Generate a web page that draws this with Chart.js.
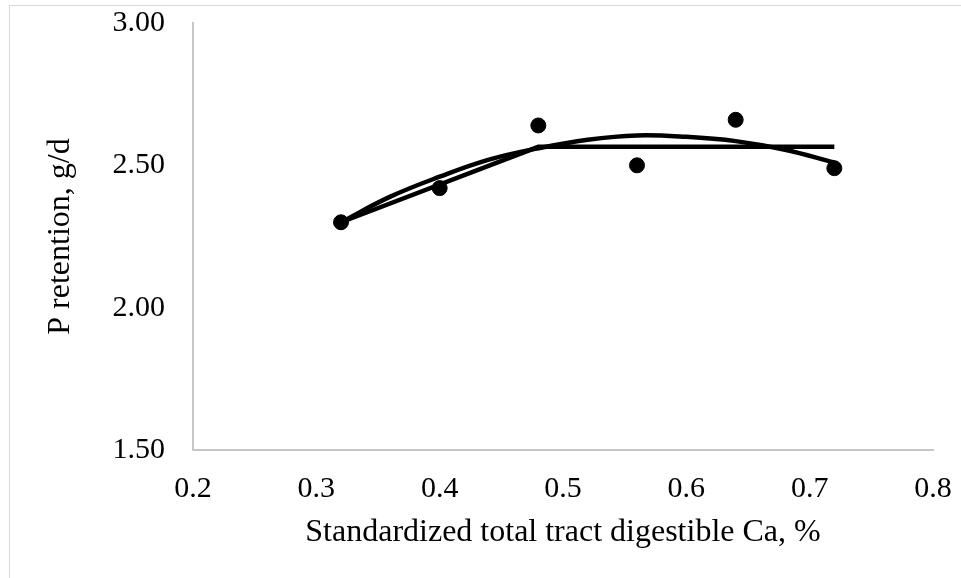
<!DOCTYPE html>
<html lang="en">
<head>
  <meta charset="UTF-8" />
  <title>P retention vs STTD Ca</title>
  <script src="https://cdn.jsdelivr.net/npm/chart.js"></script>
  <style>
    html, body { margin: 0; padding: 0; background: #fff; }
    #wrap { position: relative; width: 961px; height: 578px; overflow: hidden; }
    #frame { position: absolute; left: 9px; top: 5px; width: 1000px; height: 1000px; border: 1px solid #d9d9d9; box-sizing: border-box; }
    canvas { position: absolute; left: 0; top: 0; }
  </style>
</head>
<body>
  <div id="wrap">
    <div id="frame"></div>
    <canvas id="chart" width="961" height="578"></canvas>
  </div>
  <script>
    // observed values
    const caLevels = [0.32, 0.40, 0.48, 0.56, 0.64, 0.72];
    const pRetention = [2.30, 2.42, 2.64, 2.50, 2.66, 2.49];

    // broken-line fit
    const brokenX = [0.32, 0.48, 0.72];
    const brokenY = [2.30, 2.565, 2.565];

    // quadratic fit curve
    const curveX = [0.32, 0.36, 0.40, 0.44, 0.48, 0.52, 0.56, 0.60, 0.64, 0.68, 0.72];
    const curveY = [2.30, 2.39, 2.46, 2.52, 2.56, 2.59, 2.605, 2.60, 2.585, 2.555, 2.51];

    const yTicks = [1.5, 2.0, 2.5, 3.0];
    const xTicks = [0.2, 0.3, 0.4, 0.5, 0.6, 0.7, 0.8];

    const pts = (xs, ys) => xs.map((x, i) => ({ x: x, y: ys[i] }));
    const font = 'Liberation Serif, Times New Roman, serif';

    new Chart(document.getElementById('chart'), {
      type: 'scatter',
      data: {
        datasets: [
          { data: pts(curveX, curveY), showLine: true, tension: 0.4, borderColor: '#000', borderWidth: 4.5, pointRadius: 0, order: 2 },
          { data: pts(brokenX, brokenY), showLine: true, tension: 0, borderColor: '#000', borderWidth: 4.5, pointRadius: 0, order: 3 },
          { data: pts(caLevels, pRetention), showLine: false, backgroundColor: '#000', borderColor: '#000', pointRadius: 7.5, pointHoverRadius: 7.5, order: 1 }
        ]
      },
      options: {
        responsive: false,
        animation: false,
        events: [],
        layout: { padding: 0, autoPadding: false },
        plugins: { legend: { display: false }, tooltip: { enabled: false } },
        scales: {
          x: {
            type: 'linear',
            min: 0.2,
            max: 0.8,
            // pin plot edges: bottom at 450, right at 933
            afterFit: s => { s.height = 128; s.paddingRight = 28; s.paddingLeft = 0; },
            afterBuildTicks: s => { s.ticks = xTicks.map(v => ({ value: v })); },
            grid: { display: true, color: 'transparent', drawTicks: false },
            border: { display: true, color: '#c6c6c6', width: 2 },
            ticks: { padding: 21, color: '#000', font: { family: font, size: 30 }, callback: v => v.toFixed(1) },
            title: { display: true, text: 'Standardized total tract digestible Ca, %', color: '#000', font: { family: font, size: 32 }, padding: { top: 0, bottom: 26 } }
          },
          y: {
            type: 'linear',
            min: 1.5,
            max: 3.0,
            // pin plot edges: left at 193, top at 23
            afterFit: s => { s.width = 193; s.paddingTop = 23; s.paddingBottom = 0; },
            afterBuildTicks: s => { s.ticks = yTicks.map(v => ({ value: v })); },
            grid: { display: true, color: 'transparent', drawTicks: false },
            border: { display: true, color: '#c6c6c6', width: 2 },
            ticks: { padding: 28, color: '#000', font: { family: font, size: 30 }, callback: v => v.toFixed(2) },
            title: { display: true, text: 'P retention, g/d', color: '#000', font: { family: font, size: 32 }, padding: { top: 41, bottom: 0 } }
          }
        }
      }
    });
  </script>
</body>
</html>
